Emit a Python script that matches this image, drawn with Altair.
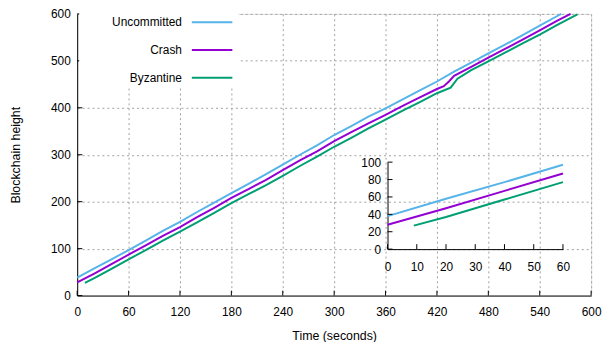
import altair as alt
import pandas as pd

SERIES = ["Uncommitted", "Crash", "Byzantine"]
COLORS = ["#56b4e9", "#9400d3", "#009e73"]

T_UNC = [0, 20, 40, 60, 80, 100, 120, 140, 160, 180, 200, 220, 240, 260, 280, 300,
         320, 340, 360, 380, 400, 420, 440, 460, 480, 500, 520, 540, 560, 565]
H_UNC = [38, 58, 77, 97, 117, 138, 157, 178, 198, 218, 238, 258, 279, 300, 320, 342,
         361, 381, 399, 418, 437, 456, 477, 496, 516, 535, 555, 575, 595, 600]

T_CRA = [0, 20, 40, 60, 80, 100, 120, 140, 160, 180, 200, 220, 240, 260, 280, 300,
         320, 340, 360, 380, 400, 420, 428, 434, 440, 460, 480, 500, 520, 540, 560, 576]
H_CRA = [28, 47, 67, 87, 107, 127, 146, 167, 187, 208, 227, 246, 267, 288, 307, 329,
         348, 367, 385, 404, 422, 440, 446, 456, 468, 487, 507, 526, 545, 565, 585, 600]

T_BYZ = [9, 20, 40, 60, 80, 100, 120, 140, 160, 180, 200, 220, 240, 260, 280, 300,
         320, 340, 360, 380, 400, 420, 436, 444, 460, 480, 500, 520, 540, 560, 580, 584]
H_BYZ = [27, 37, 57, 77, 97, 117, 136, 156, 176, 197, 216, 235, 255, 276, 296, 317,
         336, 356, 375, 394, 412, 431, 443, 462, 480, 499, 518, 537, 556, 576, 595, 599]

X_TICKS = [0, 60, 120, 180, 240, 300, 360, 420, 480, 540, 600]
Y_TICKS = [0, 100, 200, 300, 400, 500, 600]
INSET_X_TICKS = [0, 10, 20, 30, 40, 50, 60]
INSET_Y_TICKS = [0, 20, 40, 60, 80, 100]
INSET_MAX_T = 60

rows = []
for name, ts, hs in [("Uncommitted", T_UNC, H_UNC), ("Crash", T_CRA, H_CRA), ("Byzantine", T_BYZ, H_BYZ)]:
    for t, h in zip(ts, hs):
        rows.append({"t": t, "h": h, "series": name})
df = pd.DataFrame(rows)

FONT = "Liberation Sans"
W, H = 520, 285

# tick lengths (in data units)
df_xt = pd.DataFrame({"v": X_TICKS, "lo": 0, "hi": 10.5})
df_yt = pd.DataFrame({"v": Y_TICKS, "lo": 0, "hi": 6})
df_ixt = pd.DataFrame({"v": INSET_X_TICKS, "lo": 0, "hi": 5.7})
df_iyt = pd.DataFrame({"v": INSET_Y_TICKS, "lo": 0, "hi": 1.7})

color_scale = alt.Scale(domain=SERIES, range=COLORS)
legend = alt.Legend(orient="none", legendX=2, legendY=-15, title=None, direction="vertical",
                    symbolType="stroke", symbolSize=1681, symbolStrokeWidth=2,
                    symbolOffset=111, labelAlign="right", labelOffset={"expr": "-52"},
                    rowPadding=0, padding=2, fillColor="white",
                    labelFont=FONT, labelFontSize=12, labelColor="black")

grid_op = {"condition": {"test": "datum.value === 0", "value": 0}, "value": 1}

mx = alt.Scale(domain=[0, 600], nice=False, zero=False)
my = alt.Scale(domain=[0, 600], nice=False, zero=False)
ax_x = alt.Axis(title="Time (seconds)", values=X_TICKS, orient="bottom", grid=True,
                gridDash=[2, 3], gridColor="#a0a0a0", gridOpacity=grid_op,
                ticks=False, tickSize=0, domainColor="black", labelPadding=11,
                titlePadding=12, labelFontSize=12, titleFontSize=12.5,
                titleFontWeight="normal", labelFlush=False, labelOverlap=False,
                labelColor="black", titleColor="black", labelFont=FONT, titleFont=FONT)
ax_y = alt.Axis(title="Blockchain height", values=Y_TICKS, orient="left", grid=True,
                gridDash=[2, 3], gridColor="#a0a0a0", gridOpacity=grid_op,
                ticks=False, tickSize=0, domainColor="black", labelPadding=7,
                titlePadding=28, labelFontSize=12, titleFontSize=12.5,
                titleFontWeight="normal", labelFlush=False, labelOverlap=False,
                labelColor="black", titleColor="black", labelFont=FONT, titleFont=FONT)

main_lines = alt.Chart(df).mark_line(strokeWidth=2).encode(
    x=alt.X("t:Q", scale=mx, axis=ax_x),
    y=alt.Y("h:Q", scale=my, axis=ax_y),
    color=alt.Color("series:N", scale=color_scale, legend=legend),
)
main_xt = alt.Chart(df_xt).mark_rule(color="black", strokeWidth=1).encode(
    x=alt.X("v:Q", scale=mx, axis=ax_x),
    y=alt.Y("lo:Q", scale=my, axis=ax_y),
    y2="hi:Q",
)
main_yt = alt.Chart(df_yt).mark_rule(color="black", strokeWidth=1).encode(
    y=alt.Y("v:Q", scale=my, axis=ax_y),
    x=alt.X("lo:Q", scale=mx, axis=ax_x),
    x2="hi:Q",
)
main = alt.layer(main_lines, main_xt, main_yt)

ix = alt.Scale(domain=[0, 60], range=[314, 491.5], nice=False, zero=False)
iy = alt.Scale(domain=[0, 100], range=[238, 150], nice=False, zero=False)
ax_ix = alt.Axis(title=None, values=INSET_X_TICKS, orient="bottom", offset=-(H - 238),
                 grid=False, ticks=False, tickSize=0, domainColor="black",
                 labelPadding=13, labelFontSize=12, labelFlush=False, labelOverlap=False,
                 labelColor="black", labelFont=FONT)
ax_iy = alt.Axis(title=None, values=INSET_Y_TICKS, orient="left", offset=-314,
                 grid=False, ticks=False, tickSize=0, domainColor="black",
                 labelPadding=7, labelFontSize=12, labelFlush=False, labelOverlap=False,
                 labelColor="black", labelFont=FONT)

inset_lines = alt.Chart(df).transform_filter(alt.datum.t <= INSET_MAX_T).mark_line(strokeWidth=2).encode(
    x=alt.X("t:Q", scale=ix, axis=ax_ix),
    y=alt.Y("h:Q", scale=iy, axis=ax_iy),
    color=alt.Color("series:N", scale=color_scale, legend=legend),
)
inset_xt = alt.Chart(df_ixt).mark_rule(color="black", strokeWidth=1).encode(
    x=alt.X("v:Q", scale=ix, axis=ax_ix),
    y=alt.Y("lo:Q", scale=iy, axis=ax_iy),
    y2="hi:Q",
)
inset_yt = alt.Chart(df_iyt).mark_rule(color="black", strokeWidth=1).encode(
    y=alt.Y("v:Q", scale=iy, axis=ax_iy),
    x=alt.X("lo:Q", scale=ix, axis=ax_ix),
    x2="hi:Q",
)
inset = alt.layer(inset_lines, inset_xt, inset_yt)

chart = alt.layer(main, inset).resolve_scale(
    x="independent", y="independent"
).properties(
    width=W, height=H,
    padding={"left": 70, "top": 4, "right": 11, "bottom": 45},
    autosize=alt.AutoSizeParams(type="none"),
).configure_view(stroke=None).configure(font=FONT)

chart.save("out.html", embed_options={"renderer": "svg", "actions": False})
